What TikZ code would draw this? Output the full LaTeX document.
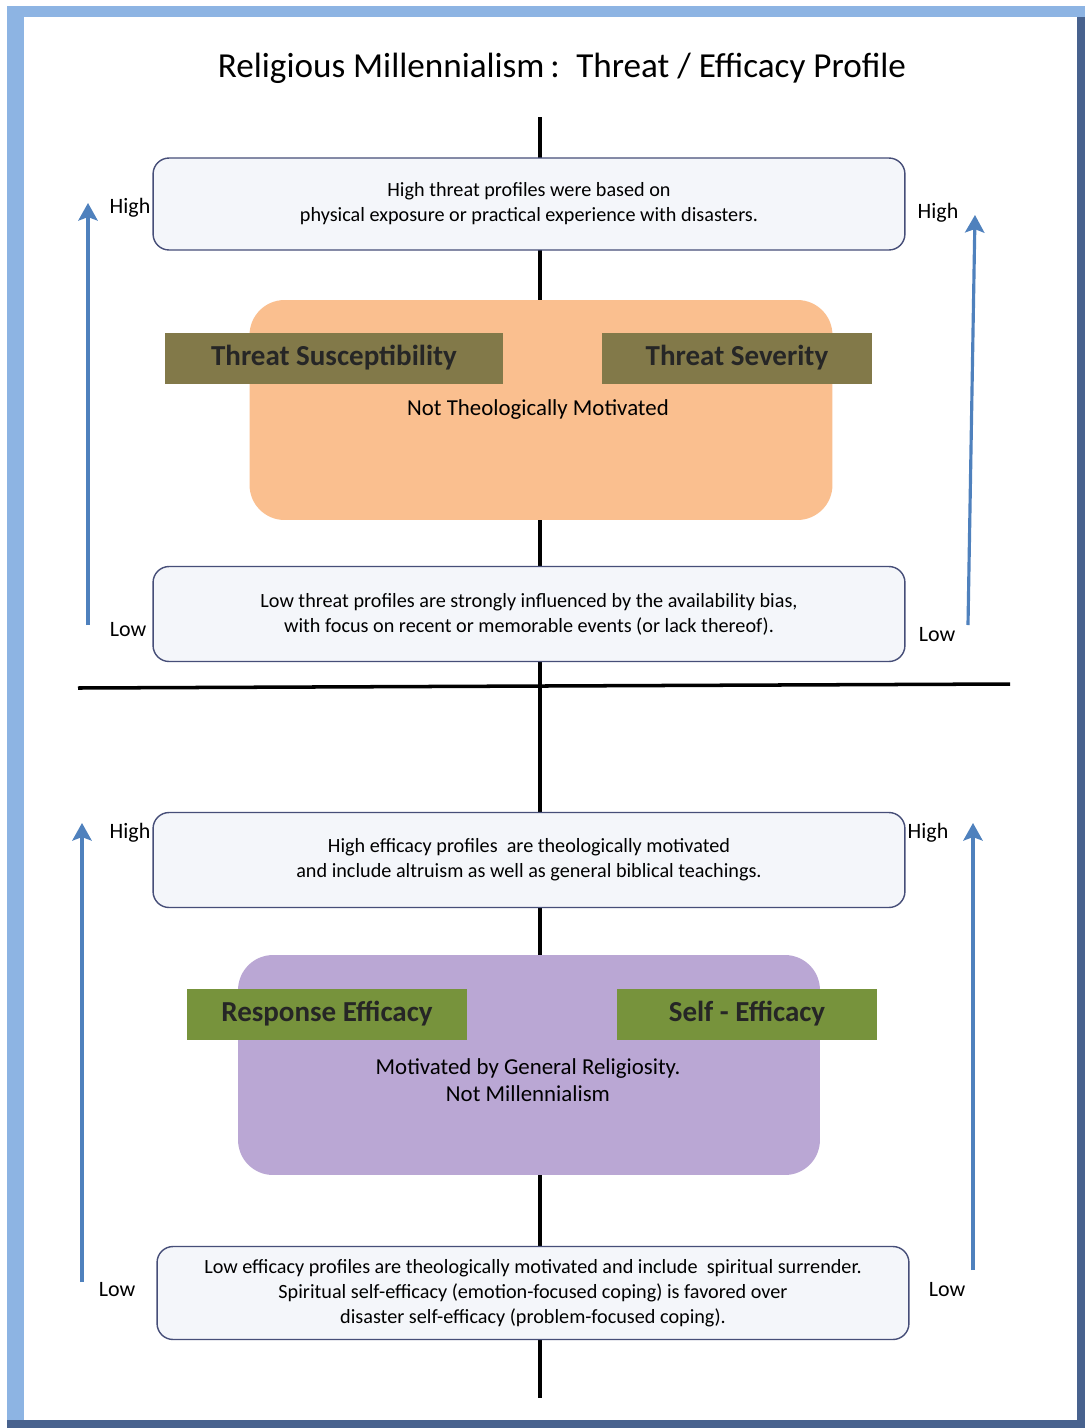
\documentclass[tikz,border=0pt]{standalone}
\usepackage{fontspec}
\setmainfont{Carlito}
\usetikzlibrary{positioning, arrows.meta, calc}
\definecolor{frameblue}{RGB}{141,180,227}
\definecolor{framedark}{RGB}{72,98,142}
\definecolor{boxline}{RGB}{70,78,120}
\definecolor{boxfill}{RGB}{244,246,250}
\definecolor{threatbg}{RGB}{250,191,143}
\definecolor{efficacybg}{RGB}{186,167,212}
\definecolor{olivebar}{RGB}{130,121,73}
\definecolor{greenbar}{RGB}{119,147,60}
\definecolor{axisblue}{RGB}{79,129,189}

\begin{document}
\begin{tikzpicture}[x=0.02cm, y=-0.02cm,
    profile/.style={draw=boxline, fill=boxfill, line width=0.8pt, rounded corners=0.32cm,
      minimum width=15.04cm, align=center, font=\fontsize{11.5}{14.2}\selectfont},
    factor/.style={rounded corners=0.7cm, minimum height=4.4cm},
    tag/.style={minimum height=1.02cm, text=black!85, font=\fontsize{16.5}{18}\selectfont\bfseries},
    level/.style={font=\fontsize{12.5}{14}\selectfont},
    axis/.style={axisblue, line width=1.8pt, -{Stealth[length=10pt, width=11pt, inset=2pt]}}]
    \useasboundingbox (0,0) rectangle (1085,1428);
    \fill[frameblue] (7,6) rectangle (1085,1428);
    \fill[framedark] (1077,17) rectangle (1085,1428);
    \fill[framedark] (7,1420) rectangle (1085,1428);
    \fill[white] (24,17) rectangle (1077,1420);

    \node[font=\fontsize{20}{24}\selectfont] (title) at (562,68) {Religious Millennialism\,:\, Threat / Efficacy Profile};

    \coordinate (spineTop) at (540,117);
    \coordinate (spineBot) at (540,1398);
    \draw[line width=2.1pt] (spineTop) -- (spineBot);
    \coordinate (divL) at (78,688);
    \coordinate (divR) at (1010,684);
    \draw[line width=2pt] (divL) -- (divR);

    \node[profile, minimum height=1.84cm] (hiThreat) at (529,204)
      {High threat profiles were based on\\physical exposure or practical experience with disasters.};
    \node[factor, fill=threatbg, minimum width=11.66cm] (threat) at (541,410) {};
    \node[tag, fill=olivebar, minimum width=6.76cm] (suscept) at (334,358) {Threat Susceptibility};
    \node[tag, fill=olivebar, minimum width=5.4cm] (severity) at (737,358) {Threat Severity};
    \node[font=\fontsize{13}{15}\selectfont] (notTheo) at (538,410) {Not Theologically Motivated};
    \node[profile, minimum height=1.9cm] (loThreat) at (529,614)
      {Low threat profiles are strongly influenced by the availability bias,\\with focus on recent or memorable events (or lack thereof).};

    \node[profile, minimum height=1.9cm] (hiEff) at (529,860)
      {High efficacy profiles \ are theologically motivated\\and include altruism as well as general biblical teachings.};
    \node[factor, fill=efficacybg, minimum width=11.64cm] (efficacy) at (529,1065) {};
    \node[tag, fill=greenbar, minimum width=5.6cm] (response) at (327,1014) {Response Efficacy};
    \node[tag, fill=greenbar, minimum width=5.22cm] (selfEff) at (747,1014) {Self - Efficacy};
    \node[align=center, font=\fontsize{13}{15.5}\selectfont] (general) at (528,1080)
      {Motivated by General Religiosity.\\Not Millennialism};
    \node[profile, minimum height=1.86cm] (loEff) at (533,1293)
      {Low efficacy profiles are theologically motivated and include \ spiritual surrender.\\Spiritual self-efficacy (emotion-focused coping) is favored over\\disaster self-efficacy (problem-focused coping).};

    \node[level] (hiTL) at (130,208) {High};
    \node[level] (loTL) at (128,630) {Low};
    \node[level] (hiTR) at (938,213) {High};
    \node[level] (loTR) at (937,635) {Low};
    \node[level] (hiBL) at (130,833) {High};
    \node[level] (loBL) at (117,1290) {Low};
    \node[level] (hiBR) at (928,833) {High};
    \node[level] (loBR) at (947,1290) {Low};

    \coordinate (tlFrom) at (88,625);
    \coordinate (tlTo) at (88,203);
    \coordinate (trFrom) at (968,625);
    \coordinate (trTo) at (975,215);
    \coordinate (blFrom) at (82,1282);
    \coordinate (blTo) at (82,823);
    \coordinate (brFrom) at (973,1270);
    \coordinate (brTo) at (973,823);
    \draw[axis] (tlFrom) -- (tlTo);
    \draw[axis] (trFrom) -- (trTo);
    \draw[axis] (blFrom) -- (blTo);
    \draw[axis] (brFrom) -- (brTo);
  \end{tikzpicture}
\end{document}
